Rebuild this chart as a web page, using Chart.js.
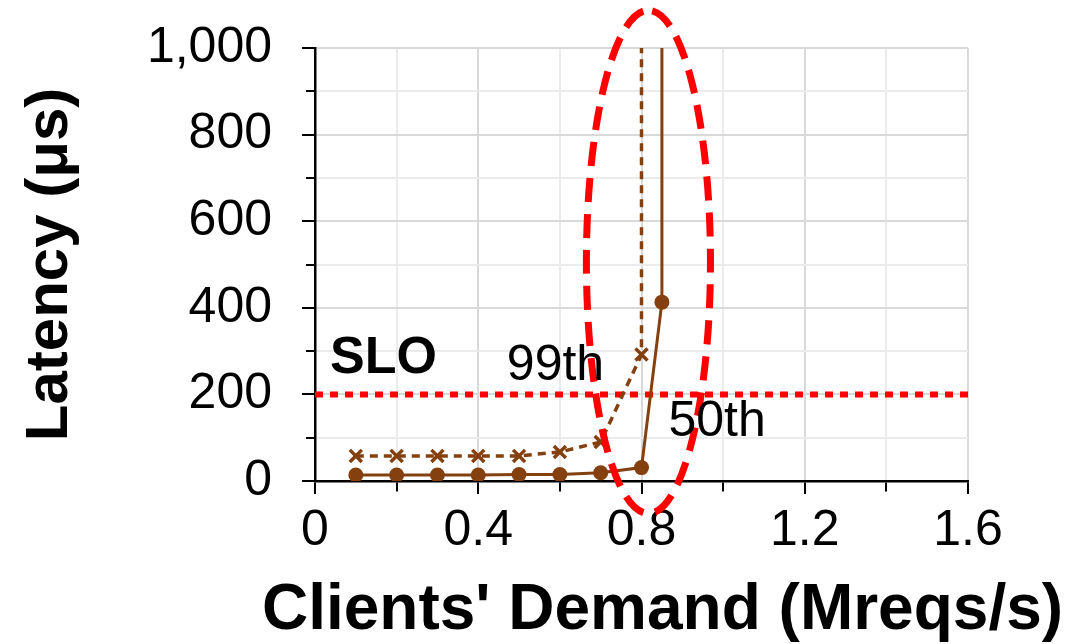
<!DOCTYPE html>
<html>
<head>
<meta charset="utf-8">
<script src="https://cdn.jsdelivr.net/npm/chart.js@4"></script>
<style>
  html, body { margin: 0; padding: 0; background: #fff; }
  #wrap { width: 1086px; height: 644px; }
</style>
</head>
<body>
<div id="wrap"><canvas id="chart" width="1086" height="644"></canvas></div>
<script>
// values
const p50Demand  = [0.1, 0.2, 0.3, 0.4, 0.5, 0.6, 0.7, 0.8, 0.85, 0.85];
const p50Latency = [14, 14, 14, 14, 15, 15, 19, 31, 413, 3000];
const p99Demand  = [0.1, 0.2, 0.3, 0.4, 0.5, 0.6, 0.7, 0.8, 0.8];
const p99Latency = [58, 58, 58, 58, 58, 67, 90, 292, 3000];
const sloLatency = 200;
const xRange = [0, 1.6];
const yRange = [0, 1000];
const xTitle = "Clients' Demand (Mreqs/s)";
const yTitle = 'Latency (μs)';
const noteText = ['SLO', '99th', '50th'];
const noteX = [0.037, 0.47, 0.866];
const noteY = [250, 233, 105];
const ellipseCenter = [0.817, 506];
const ellipseRadius = [0.152, 581];

const brown = '#84400F';
const red = '#FF0000';
const font = 'Liberation Sans, Arial, Helvetica, sans-serif';

const pts = (xs, ys) => xs.map((x, i) => ({x: x, y: ys[i]}));
const xMajor = v => Math.round(v * 10) % 4 === 0;
const yMajor = v => Math.round(v) % 200 === 0;

const notes = {
  id: 'notes',
  afterDatasetsDraw(chart) {
    const {ctx, scales: {x, y}} = chart;
    ctx.save();
    // red dashed ring round the knee
    ctx.beginPath();
    const cx = x.getPixelForValue(ellipseCenter[0]);
    const cy = y.getPixelForValue(ellipseCenter[1]);
    const rx = x.getPixelForValue(ellipseCenter[0] + ellipseRadius[0]) - cx;
    const ry = cy - y.getPixelForValue(ellipseCenter[1] + ellipseRadius[1]);
    ctx.ellipse(cx, cy, rx, ry, 0, -Math.PI / 2 + 0.06, 1.5 * Math.PI + 0.06);
    ctx.strokeStyle = red;
    ctx.lineWidth = 7;
    ctx.setLineDash([24, 12]);
    ctx.stroke();
    ctx.setLineDash([]);
    // text labels
    ctx.fillStyle = '#000';
    ctx.textBaseline = 'alphabetic';
    ctx.textAlign = 'left';
    noteText.forEach((t, i) => {
      ctx.font = (i === 0 ? 'bold 52px ' : '50px ') + font;
      ctx.fillText(t, x.getPixelForValue(noteX[i]), y.getPixelForValue(noteY[i]));
    });
    // x title is wider than the plot, so it is drawn here without squeezing
    ctx.font = 'bold 64px ' + font;
    ctx.textAlign = 'center';
    ctx.fillText(xTitle, (x.left + x.right) / 2 + 21, chart.height - 15);
    ctx.restore();
  }
};

new Chart(document.getElementById('chart'), {
  type: 'scatter',
  data: {
    datasets: [
      {
        label: 'SLO',
        data: pts(xRange, [sloLatency, sloLatency]),
        showLine: true,
        borderColor: red,
        borderWidth: 6,
        borderDash: [8, 7],
        pointRadius: 0,
        order: 3
      },
      {
        label: '99th',
        data: pts(p99Demand, p99Latency),
        showLine: true,
        borderColor: brown,
        borderWidth: 3.5,
        borderDash: [8, 6],
        pointStyle: 'crossRot',
        pointRadius: 8.5,
        pointBorderWidth: 3.5,
        pointBorderColor: brown,
        pointBackgroundColor: brown,
        order: 2
      },
      {
        label: '50th',
        data: pts(p50Demand, p50Latency),
        showLine: true,
        borderColor: brown,
        borderWidth: 3,
        pointStyle: 'circle',
        pointRadius: 7.5,
        pointBorderWidth: 0,
        pointBackgroundColor: brown,
        order: 1
      }
    ]
  },
  options: {
    responsive: false,
    animation: false,
    layout: { padding: { top: 48, right: 118, left: 0, bottom: 0 } },
    plugins: { legend: { display: false }, tooltip: { enabled: false } },
    scales: {
      x: {
        type: 'linear',
        min: xRange[0], max: xRange[1],
        afterFit: s => { s.height = 163; s.paddingLeft = 0; s.paddingRight = 0; },
        ticks: {
          stepSize: 0.2,
          padding: 7,
          color: '#000',
          font: { family: font, size: 50 },
          maxRotation: 0,
          autoSkip: false,
          callback: v => xMajor(v) ? String(Math.round(v * 10) / 10) : ''
        },
        grid: {
          color: c => xMajor(c.tick.value) ? '#d9d9d9' : '#ebebeb',
          lineWidth: 2,
          tickColor: '#000',
          tickWidth: 2,
          tickLength: 13,
          tickBorderDash: c => xMajor(c.tick.value) ? [] : [9, 60]
        },
        border: { color: '#000', width: 2.5 },
        title: { display: false }
      },
      y: {
        min: yRange[0], max: yRange[1],
        afterFit: s => { s.width = 315; s.paddingTop = 0; s.paddingBottom = 0; },
        ticks: {
          stepSize: 100,
          padding: 30,
          color: '#000',
          font: { family: font, size: 50 },
          autoSkip: false,
          callback: v => yMajor(v) ? v.toLocaleString('en-US') : ''
        },
        grid: {
          color: c => yMajor(c.tick.value) ? '#d9d9d9' : '#ebebeb',
          lineWidth: 2,
          tickColor: '#000',
          tickWidth: 2,
          tickLength: 13,
          tickBorderDash: c => yMajor(c.tick.value) ? [] : [0, 4, 9, 60]
        },
        border: { color: '#000', width: 2.5 },
        title: {
          display: true,
          text: yTitle,
          color: '#000',
          font: { family: font, size: 60, weight: 'bold' },
          padding: { top: 14, bottom: 0 }
        }
      }
    }
  },
  plugins: [notes]
});
</script>
</body>
</html>
